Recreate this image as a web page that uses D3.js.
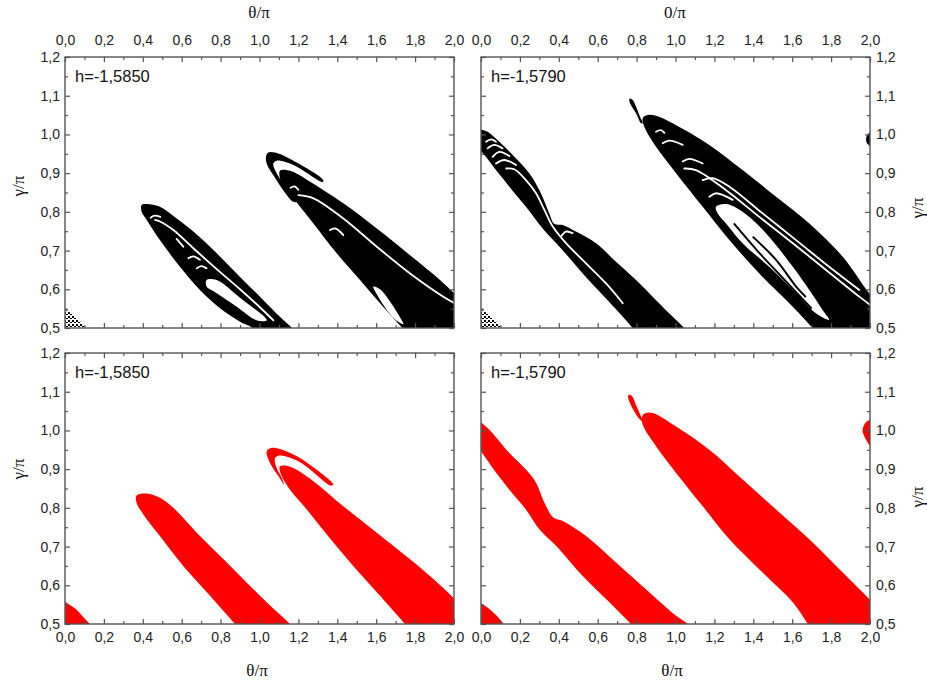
<!DOCTYPE html>
<html>
<head>
<meta charset="utf-8">
<script src="https://cdn.jsdelivr.net/npm/d3@7/dist/d3.min.js"></script>
<style>
  html, body { margin: 0; padding: 0; background: #fff; }
  svg { display: block; }
</style>
</head>
<body>
<svg id="chart" width="927" height="683"></svg>
<script>
// axis ticks
const thetaMajor = [0, 0.2, 0.4, 0.6, 0.8, 1.0, 1.2, 1.4, 1.6, 1.8, 2.0];
const thetaMinor = [0.1, 0.3, 0.5, 0.7, 0.9, 1.1, 1.3, 1.5, 1.7, 1.9];
const gammaMajor = [0.5, 0.6, 0.7, 0.8, 0.9, 1.0, 1.1, 1.2];
const gammaMinor = [0.55, 0.65, 0.75, 0.85, 0.95, 1.05, 1.15];

const energyLabels = ["h=-1,5850", "h=-1,5790", "h=-1,5850", "h=-1,5790"];

// region outlines as [theta/pi, gamma/pi]; points past the frame are clipped

// ---- h = -1.5850, black (top left)
const tlCorner = [[-0.05, 0.56], [0.05, 0.53], [0.115, 0.49], [-0.05, 0.49]];
const tlBandA = [
  [0.394, 0.818], [0.42, 0.82], [0.488, 0.813], [0.574, 0.783], [0.66, 0.749],
  [0.78, 0.693], [0.9, 0.632], [1.02, 0.572], [1.105, 0.529], [1.157, 0.505],
  [1.22, 0.47], [1.28, 0.42], [1.04, 0.42], [0.97, 0.497], [0.9, 0.516], [0.797, 0.551],
  [0.694, 0.598], [0.591, 0.658], [0.488, 0.727], [0.42, 0.779], [0.394, 0.8]
];
const tlHook = [
  [1.033, 0.942], [1.045, 0.953], [1.08, 0.953], [1.174, 0.932], [1.328, 0.882],
  [1.325, 0.877], [1.174, 0.921], [1.088, 0.932], [1.071, 0.924], [1.088, 0.9],
  [1.14, 0.861], [1.191, 0.826], [1.174, 0.826], [1.122, 0.856], [1.071, 0.895],
  [1.04, 0.921]
];
const tlBandB = [
  [1.105, 0.906], [1.157, 0.906], [1.26, 0.878], [1.431, 0.822], [1.603, 0.757],
  [1.774, 0.688], [1.928, 0.624], [2.02, 0.58], [2.1, 0.54], [2.12, 0.42],
  [1.84, 0.42], [1.76, 0.485], [1.705, 0.516], [1.62, 0.564], [1.517, 0.624],
  [1.397, 0.693], [1.277, 0.77], [1.174, 0.835], [1.114, 0.874]
];
const tlHoleA = [
  [0.728, 0.624], [0.78, 0.624], [0.9, 0.578], [1.037, 0.52], [0.985, 0.52],
  [0.883, 0.555], [0.78, 0.59], [0.728, 0.607]
];
const tlHoleB = [[1.585, 0.607], [1.62, 0.6], [1.72, 0.53], [1.74, 0.51], [1.69, 0.525], [1.6, 0.59]];
const tlStripes = [
  [[0.463, 0.779], [0.488, 0.775], [0.557, 0.753], [0.66, 0.706], [0.78, 0.652], [0.9, 0.6], [1.003, 0.553], [1.071, 0.52]],
  [[0.44, 0.785], [0.46, 0.79], [0.49, 0.787]],
  [[0.574, 0.73], [0.608, 0.71]],
  [[0.634, 0.68], [0.66, 0.685], [0.694, 0.676]],
  [[0.677, 0.654], [0.7, 0.66], [0.728, 0.654]],
  [[1.2, 0.843], [1.277, 0.835], [1.431, 0.783], [1.603, 0.71], [1.774, 0.641], [1.945, 0.581], [2.0, 0.565]],
  [[1.16, 0.862], [1.18, 0.866], [1.2, 0.857]],
  [[1.362, 0.753], [1.39, 0.757], [1.431, 0.74]]
];

// ---- h = -1.5790, black (top right)
const trCorner = [[-0.05, 0.56], [0.05, 0.53], [0.115, 0.49], [-0.05, 0.49]];
const trBandD = [
  [-0.1, 1.045], [-0.04, 1.025], [0, 1.013], [0.034, 1.007], [0.094, 0.981], [0.163, 0.947],
  [0.248, 0.9], [0.308, 0.848], [0.351, 0.796], [0.377, 0.769], [0.42, 0.766], [0.488, 0.749],
  [0.591, 0.719], [0.694, 0.671], [0.797, 0.624], [0.9, 0.572], [0.986, 0.529],
  [1.045, 0.5], [1.1, 0.47], [1.16, 0.42], [0.9, 0.42], [0.84, 0.465], [0.78, 0.5],
  [0.729, 0.529], [0.626, 0.585], [0.523, 0.641], [0.42, 0.701], [0.317, 0.757],
  [0.231, 0.813], [0.146, 0.865], [0.077, 0.908], [0.026, 0.942], [-0.04, 0.975], [-0.1, 0.99]
];
const trHook = [
  [0.766, 1.093], [0.78, 1.089], [0.797, 1.072], [0.817, 1.046], [0.831, 1.029],
  [0.823, 1.029], [0.797, 1.055], [0.771, 1.076], [0.762, 1.089]
];
const trBandE = [
  [0.831, 1.042], [0.857, 1.05], [0.9, 1.048], [1.003, 1.024], [1.174, 0.973],
  [1.345, 0.908], [1.517, 0.839], [1.688, 0.77], [1.86, 0.684], [1.997, 0.589],
  [2.1, 0.53], [2.15, 0.42], [1.82, 0.42], [1.76, 0.47], [1.705, 0.5], [1.603, 0.555],
  [1.431, 0.641], [1.277, 0.727], [1.14, 0.813], [1.003, 0.9], [0.9, 0.968], [0.84, 1.02]
];
const trBlob = [[2.01, 1.006], [1.985, 0.998], [1.982, 0.98], [2.01, 0.968]];
const trHoleE = [
  [1.208, 0.813], [1.26, 0.82], [1.345, 0.8], [1.465, 0.745], [1.603, 0.658],
  [1.688, 0.598], [1.757, 0.546], [1.79, 0.521], [1.722, 0.538], [1.62, 0.59],
  [1.482, 0.658], [1.345, 0.719], [1.26, 0.77], [1.217, 0.796]
];
const trInner = [
  [[1.397, 0.736], [1.517, 0.676], [1.62, 0.607], [1.67, 0.58]],
  [[1.3, 0.77], [1.42, 0.7], [1.55, 0.63], [1.7, 0.55]]
];
const trStripes = [
  [[0.129, 0.912], [0.171, 0.91], [0.231, 0.882], [0.283, 0.848], [0.326, 0.805], [0.369, 0.762], [0.437, 0.719], [0.54, 0.667], [0.643, 0.615], [0.729, 0.564]],
  [[0.026, 0.981], [0.051, 0.987], [0.077, 0.981]],
  [[0.034, 0.964], [0.068, 0.973], [0.111, 0.964]],
  [[0.06, 0.942], [0.094, 0.955], [0.146, 0.944]],
  [[0.077, 0.925], [0.12, 0.934], [0.18, 0.921]],
  [[0.411, 0.736], [0.437, 0.749], [0.471, 0.745]],
  [[0.9, 1.007], [0.925, 1.011], [0.943, 1.004]],
  [[0.934, 0.977], [0.968, 0.984], [1.037, 0.973]],
  [[1.037, 0.93], [1.071, 0.937], [1.14, 0.925]],
  [[1.045, 0.912], [1.105, 0.908], [1.26, 0.856], [1.431, 0.787], [1.603, 0.719], [1.774, 0.65], [1.945, 0.581], [2.0, 0.56]],
  [[1.14, 0.882], [1.191, 0.887], [1.277, 0.865], [1.448, 0.796], [1.62, 0.727], [1.79, 0.658], [1.945, 0.598]],
  [[1.174, 0.839], [1.208, 0.848], [1.294, 0.831]]
];

// ---- h = -1.5850, red (bottom left)
const blCorner = [[-0.05, 0.565], [0.043, 0.543], [0.09, 0.52], [0.135, 0.49], [-0.05, 0.49]];
const blBandG = [
  [0.368, 0.832], [0.42, 0.837], [0.488, 0.826], [0.557, 0.8], [0.694, 0.727],
  [0.865, 0.642], [1.037, 0.556], [1.157, 0.5], [1.22, 0.47], [1.28, 0.42],
  [0.98, 0.42], [0.93, 0.468], [0.874, 0.5], [0.746, 0.573], [0.608, 0.65],
  [0.488, 0.727], [0.403, 0.783], [0.368, 0.813]
];
const blHook = [
  [1.037, 0.946], [1.063, 0.955], [1.105, 0.952], [1.208, 0.929], [1.38, 0.86],
  [1.366, 0.858], [1.208, 0.918], [1.105, 0.935], [1.08, 0.929], [1.085, 0.907],
  [1.114, 0.878], [1.126, 0.86], [1.097, 0.882], [1.054, 0.916]
];
const blBandH = [
  [1.105, 0.907], [1.157, 0.906], [1.277, 0.869], [1.431, 0.804], [1.603, 0.736],
  [1.774, 0.667], [1.894, 0.616], [1.997, 0.568], [2.1, 0.52], [2.15, 0.42],
  [1.85, 0.42], [1.8, 0.47], [1.748, 0.5], [1.62, 0.573], [1.482, 0.65],
  [1.345, 0.732], [1.243, 0.796], [1.157, 0.847], [1.114, 0.882]
];

// ---- h = -1.5790, red (bottom right)
const brCorner = [[-0.05, 0.56], [0.043, 0.539], [0.12, 0.49], [-0.05, 0.49]];
const brBandJ = [
  [-0.1, 1.06], [-0.05, 1.043], [0, 1.021], [0.043, 1.002], [0.146, 0.942], [0.231, 0.899],
  [0.283, 0.865], [0.326, 0.813], [0.372, 0.775], [0.42, 0.766], [0.54, 0.727], [0.694, 0.659],
  [0.865, 0.582], [1.003, 0.521], [1.063, 0.5], [1.12, 0.475], [1.18, 0.42],
  [0.88, 0.42], [0.83, 0.47], [0.771, 0.5], [0.66, 0.556], [0.523, 0.624],
  [0.386, 0.702], [0.3, 0.745], [0.231, 0.796], [0.146, 0.847], [0.06, 0.903],
  [0, 0.946], [-0.05, 0.982], [-0.1, 1.0]
];
const brHook = [
  [0.759, 1.092], [0.776, 1.089], [0.797, 1.066], [0.823, 1.036], [0.831, 1.023],
  [0.817, 1.028], [0.788, 1.049], [0.766, 1.071], [0.757, 1.083]
];
const brBandK = [
  [0.828, 1.036], [0.848, 1.045], [0.883, 1.045], [1.003, 1.01], [1.174, 0.95],
  [1.345, 0.873], [1.517, 0.796], [1.688, 0.719], [1.86, 0.633], [1.997, 0.564],
  [2.1, 0.51], [2.15, 0.42], [1.77, 0.42], [1.72, 0.47], [1.68, 0.5], [1.603, 0.556],
  [1.448, 0.633], [1.277, 0.719], [1.14, 0.804], [1.003, 0.89], [0.9, 0.959], [0.831, 1.015]
];
const brBlob = [[1.966, 1.01], [1.983, 1.023], [2.01, 1.026], [2.01, 0.955], [1.98, 0.976], [1.962, 0.997]];

const panels = [
  { x0: 65, y0: 57, color: "#000", fills: [tlBandA, tlHook, tlBandB], grainy: [tlCorner], holes: [tlHoleA, tlHoleB], stripes: tlStripes, inner: [],
    label: energyLabels[0], topLabels: true, bottomLabels: false, leftLabels: true, rightLabels: false },
  { x0: 481, y0: 57, color: "#000", fills: [trBandD, trHook, trBandE, trBlob], grainy: [trCorner], holes: [trHoleE], stripes: trStripes, inner: trInner,
    label: energyLabels[1], topLabels: true, bottomLabels: false, leftLabels: false, rightLabels: true },
  { x0: 65, y0: 353, color: "#fe0000", fills: [blCorner, blBandG, blHook, blBandH], grainy: [], holes: [], stripes: [], inner: [],
    label: energyLabels[2], topLabels: false, bottomLabels: true, leftLabels: true, rightLabels: false },
  { x0: 481, y0: 353, color: "#fe0000", fills: [brCorner, brBandJ, brHook, brBandK, brBlob], grainy: [], holes: [], stripes: [], inner: [],
    label: energyLabels[3], topLabels: false, bottomLabels: true, leftLabels: false, rightLabels: true }
];

const PANEL_W = 389;
const PANEL_H = 271;
const FRAME = "#555";
const SANS = "'Liberation Sans', Arial, sans-serif";
const SERIF = "'Liberation Serif', 'Times New Roman', serif";

const fmt = (v) => d3.format(".1f")(v).replace(".", ",");
const svg = d3.select("#chart");

// speckled texture for the sparse black corners
const defs = svg.append("defs");
const grain = defs.append("pattern").attr("id", "grain")
  .attr("patternUnits", "userSpaceOnUse").attr("width", 4).attr("height", 4);
grain.append("rect").attr("width", 4).attr("height", 4).attr("fill", "#fff");
grain.append("rect").attr("width", 2).attr("height", 2).attr("fill", "#000");
grain.append("rect").attr("x", 2).attr("y", 2).attr("width", 2).attr("height", 1).attr("fill", "#000");

panels.forEach((p, i) => {
  const x = d3.scaleLinear().domain([0, 2]).range([p.x0, p.x0 + PANEL_W]);
  const y = d3.scaleLinear().domain([0.5, 1.2]).range([p.y0 + PANEL_H, p.y0]);
  const shape = d3.line().x((d) => x(d[0])).y((d) => y(d[1])).curve(d3.curveCatmullRomClosed.alpha(0.5));
  const stroke = d3.line().x((d) => x(d[0])).y((d) => y(d[1])).curve(d3.curveCatmullRom.alpha(0.5));

  const clipId = `clip-${i}`;
  defs.append("clipPath").attr("id", clipId)
    .append("rect").attr("x", p.x0).attr("y", p.y0).attr("width", PANEL_W).attr("height", PANEL_H);

  const g = svg.append("g").attr("clip-path", `url(#${clipId})`);
  g.selectAll("path.grainy").data(p.grainy).join("path")
    .attr("class", "grainy").attr("d", shape).attr("fill", "url(#grain)");
  g.selectAll("path.fill").data(p.fills).join("path")
    .attr("class", "fill").attr("d", shape).attr("fill", p.color);
  g.selectAll("path.hole").data(p.holes).join("path")
    .attr("class", "hole").attr("d", shape).attr("fill", "#fff");
  g.selectAll("path.inner").data(p.inner).join("path")
    .attr("class", "inner").attr("d", stroke).attr("fill", "none")
    .attr("stroke", p.color).attr("stroke-width", 2);
  g.selectAll("path.stripe").data(p.stripes).join("path")
    .attr("class", "stripe").attr("d", stroke).attr("fill", "none")
    .attr("stroke", "#fff").attr("stroke-width", 1.8).attr("stroke-linecap", "round");

  // axes, ticks pointing inward
  const axes = svg.append("g");
  const styleAxis = (sel) => {
    sel.select(".domain").remove();
    sel.selectAll("line").attr("stroke", FRAME).attr("stroke-width", 1.2);
    sel.selectAll("text").attr("fill", "#222");
    sel.attr("font-size", 14).attr("font-family", SANS);
  };
  const addAxis = (gen, transform, values, size, pad, labels) => {
    axes.append("g").attr("transform", transform)
      .call(gen.tickValues(values).tickSize(size).tickPadding(pad).tickFormat(labels ? fmt : ""))
      .call(styleAxis);
  };
  const bottomT = `translate(0,${p.y0 + PANEL_H})`;
  const topT = `translate(0,${p.y0})`;
  const leftT = `translate(${p.x0},0)`;
  const rightT = `translate(${p.x0 + PANEL_W},0)`;

  addAxis(d3.axisBottom(x), bottomT, thetaMinor, -3, 8, false);
  addAxis(d3.axisBottom(x), bottomT, thetaMajor, -5, 8, p.bottomLabels);
  addAxis(d3.axisTop(x), topT, thetaMinor, -3, 12, false);
  addAxis(d3.axisTop(x), topT, thetaMajor, -5, 12, p.topLabels);
  addAxis(d3.axisLeft(y), leftT, gammaMinor, -3, 5, false);
  addAxis(d3.axisLeft(y), leftT, gammaMajor, -5, 5, p.leftLabels);
  addAxis(d3.axisRight(y), rightT, gammaMinor, -3, 6, false);
  addAxis(d3.axisRight(y), rightT, gammaMajor, -5, 6, p.rightLabels);

  svg.append("rect")
    .attr("x", p.x0).attr("y", p.y0).attr("width", PANEL_W).attr("height", PANEL_H)
    .attr("fill", "none").attr("stroke", FRAME).attr("stroke-width", 1.4);

  svg.append("text")
    .attr("x", p.x0 + 10).attr("y", p.y0 + 25)
    .attr("font-family", SANS).attr("font-size", 16.5).attr("fill", "#111")
    .text(p.label);
});

// axis titles
const titles = [
  { text: "θ/π", x: 259, y: 18, rot: 0 },
  { text: "0/π", x: 675, y: 18, rot: 0 },
  { text: "θ/π", x: 257, y: 676, rot: 0 },
  { text: "θ/π", x: 672, y: 676, rot: 0 },
  { text: "γ/π", x: 24, y: 186, rot: -90 },
  { text: "γ/π", x: 24, y: 469, rot: -90 },
  { text: "γ/π", x: 923, y: 208, rot: -90 },
  { text: "γ/π", x: 923, y: 497, rot: -90 }
];
svg.selectAll("text.title").data(titles).join("text")
  .attr("class", "title")
  .attr("text-anchor", "middle")
  .attr("font-family", SERIF).attr("font-size", 17).attr("fill", "#111")
  .attr("transform", (d) => `translate(${d.x},${d.y}) rotate(${d.rot})`)
  .text((d) => d.text);
</script>
</body>
</html>
